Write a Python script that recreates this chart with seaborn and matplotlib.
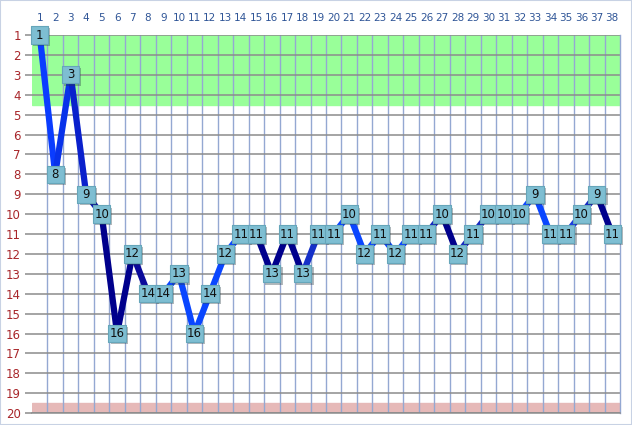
import pandas as pd
import seaborn as sns
import matplotlib.pyplot as plt
import matplotlib.patheffects as pe

# Позиции команды по турам
rounds = list(range(1, 39))
positions = [1, 8, 3, 9, 10, 16, 12, 14, 14, 13, 16, 14, 12, 11, 11, 13, 11, 13, 11,
             11, 10, 12, 11, 12, 11, 11, 10, 12, 11, 10, 10, 10, 9, 11, 11, 10, 9, 11]

# Цвет каждого отрезка между турами
seg_colors = ['#0A3CFF', '#0832EA', '#0A20CC', '#0818B0', '#00008C', '#00008C', '#0A0A9A',
              '#0A0A9A', '#0A46FF', '#0A46FF', '#0A46FF', '#0A46FF', '#0A46FF', '#0A46FF',
              '#00008C', '#00008C', '#00008C', '#1530C8', '#1530C8', '#0A46FF', '#0A46FF',
              '#0A46FF', '#0A46FF', '#0A46FF', '#0A46FF', '#1428C0', '#00008C', '#1428C0',
              '#1428C0', '#1428C0', '#0A46FF', '#0A46FF', '#0A46FF', '#0A46FF', '#1A3CE0',
              '#1428C0', '#00008C']

df = pd.DataFrame({'round': rounds, 'pos': positions})

sns.set_style('white')
fig = plt.figure(figsize=(6.32, 4.25), dpi=100)
ax = fig.add_axes([0.0506, 0.028, 0.9304, 0.8896])

# зоны таблицы
ax.axhspan(1, 4.5, color='#99FF99', zorder=0)
ax.axhspan(19.5, 20, color='#E6B9B8', zorder=0)

# сетка
for x in range(1, 38):
    ax.axvline(x + 0.5, color='#94A8D2', lw=1.0, zorder=1)
for y in range(1, 21):
    ax.axhline(y, color='#8C8C8C', lw=1.1, zorder=1)

# отрезки линии
for i in range(len(rounds) - 1):
    sns.lineplot(data=df.iloc[i:i + 2], x='round', y='pos', color=seg_colors[i],
                 lw=4.5, ax=ax, zorder=3, solid_capstyle='round', clip_on=False)

# маркеры с подписями
sns.scatterplot(data=df, x='round', y='pos', marker='s', s=155, color='#7EBED2',
                edgecolor='#66A6BA', linewidth=0.8, ax=ax, zorder=4, clip_on=False,
                path_effects=[pe.SimplePatchShadow(offset=(1.5, -1.5), alpha=0.35), pe.Normal()])
for r, p in zip(rounds, positions):
    ax.text(r, p, str(p), ha='center', va='center', fontsize=8.5, color='#101010', zorder=5)

ax.set_xlim(0.5, 38.5)
ax.set_ylim(20, 1)
ax.xaxis.tick_top()
ax.set_xticks(rounds)
ax.set_xticklabels([str(r) for r in rounds], color='#2F5597', fontsize=7.5)
ax.set_yticks(range(1, 21))
ax.set_yticklabels([str(y) for y in range(1, 21)], color='#A8262A', fontsize=8.5)
ax.tick_params(axis='x', length=0, pad=9)
ax.tick_params(axis='y', length=5, color='#8C8C8C', width=1.1, pad=3, left=True)
ax.set_xlabel('')
ax.set_ylabel('')
for side in ['top', 'left']:
    ax.spines[side].set_visible(False)
ax.spines['right'].set_color('#94A8D2')
ax.spines['right'].set_linewidth(1.0)
ax.spines['bottom'].set_color('#8C8C8C')
ax.spines['bottom'].set_linewidth(1.1)

fig.patches.append(plt.Rectangle((0, 0), 1, 1, transform=fig.transFigure, fill=False,
                                 edgecolor='#C8D2E4', lw=1.5))
fig.savefig('out.png', dpi=100)
